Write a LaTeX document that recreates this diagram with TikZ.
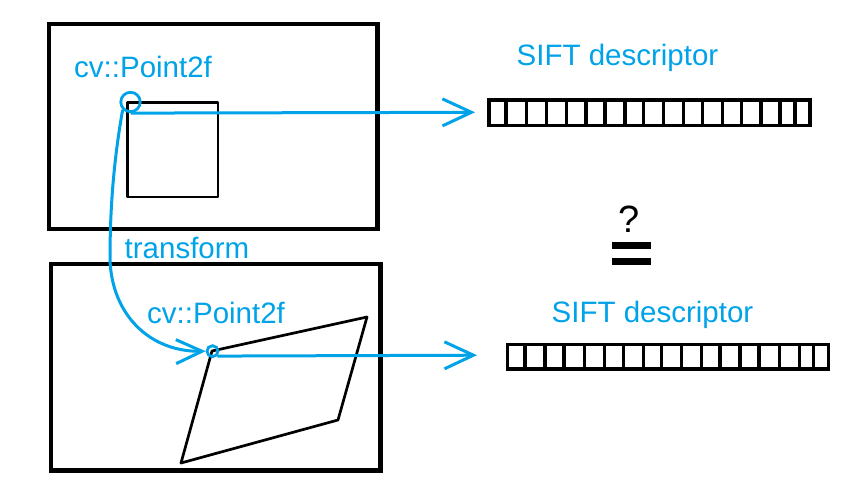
\documentclass[tikz,border=0pt]{standalone}
\usepackage{fontspec}
\setmainfont{Liberation Sans}
\usetikzlibrary{arrows.meta}
\definecolor{pblue}{RGB}{0,162,232}
\begin{document}
\begin{tikzpicture}[x=1pt,y=-1pt,
  frame/.style={draw=black,line width=4.6pt},
  shapeline/.style={draw=black,line width=2.7pt,line join=round},
  blueline/.style={draw=pblue,line width=3pt},
  lbl/.style={text=pblue,font=\fontsize{29.5}{31}\selectfont,inner sep=0pt,anchor=base west},
  barb/.style={-{Straight Barb[length=29pt,width=27pt]}},
  cbarb/.style={-{Straight Barb[length=26pt,width=24pt]}},
  pt/.style={circle,draw=pblue,line width=2.8pt,inner sep=0pt},
  barframe/.style={draw=black,line width=3.3pt},
]
\useasboundingbox (0,0) rectangle (868,498);

% frames
\draw[frame] (49,24) rectangle (377.5,229);
\draw[frame] (51,264) rectangle (380.5,470.5);

% inner shapes
\draw[shapeline] (127.7,102.5) rectangle (218,197);
\draw[shapeline] (212,351) -- (367,317) -- (338,420) -- (181,463) -- cycle;

% points
\node[pt,minimum size=19.4pt] (c1) at (130.5,102) {};
\node[pt,minimum size=11pt] (c2) at (212.5,351.2) {};

% labels
\node[lbl] (l1) at (74,77) {cv::Point2f};
\node[lbl] (l2) at (147,323) {cv::Point2f};
\node[lbl] (s1) at (516.5,65) {SIFT descriptor};
\node[lbl] (s2) at (551.5,322) {SIFT descriptor};
\node[lbl] (tr) at (124.5,258) {transform};

% descriptor bars
\draw[barframe] (489,100) rectangle (810,125.8);
\foreach \x in {506,526.7,546.7,566.7,586,605,625,643.3,663.3,683.3,702.7,722.7,741.7,761,780,795}
  \draw[barframe] (\x,100) -- (\x,125.8);
\draw[barframe] (507.7,344.3) rectangle (828.3,369);
\foreach \x in {525,545,564,584.3,604.3,623.3,643.3,661.7,681.7,701.7,720,740,759,779.3,799.3,813.3}
  \draw[barframe] (\x,344.3) -- (\x,369);

% connectors
\coordinate (e1) at (475,112.3);
\coordinate (e2) at (477,355.2);
\draw[blueline,barb] (c1.south) -- (e1);
\draw[blueline,barb] (c2.south east) -- (e2);
\draw[blueline,cbarb] (c1.225) .. controls (112,170) and (110,220) .. (110,260)
  .. controls (112,315) and (150,352) .. (c2.west);

% question / equals
\node[font=\fontsize{38}{40}\selectfont,inner sep=0pt,anchor=base] (q) at (629.5,232) {?};
\fill[black] (612,242) rectangle (651,249);
\fill[black] (612,258) rectangle (651,265);
\end{tikzpicture}
\end{document}
